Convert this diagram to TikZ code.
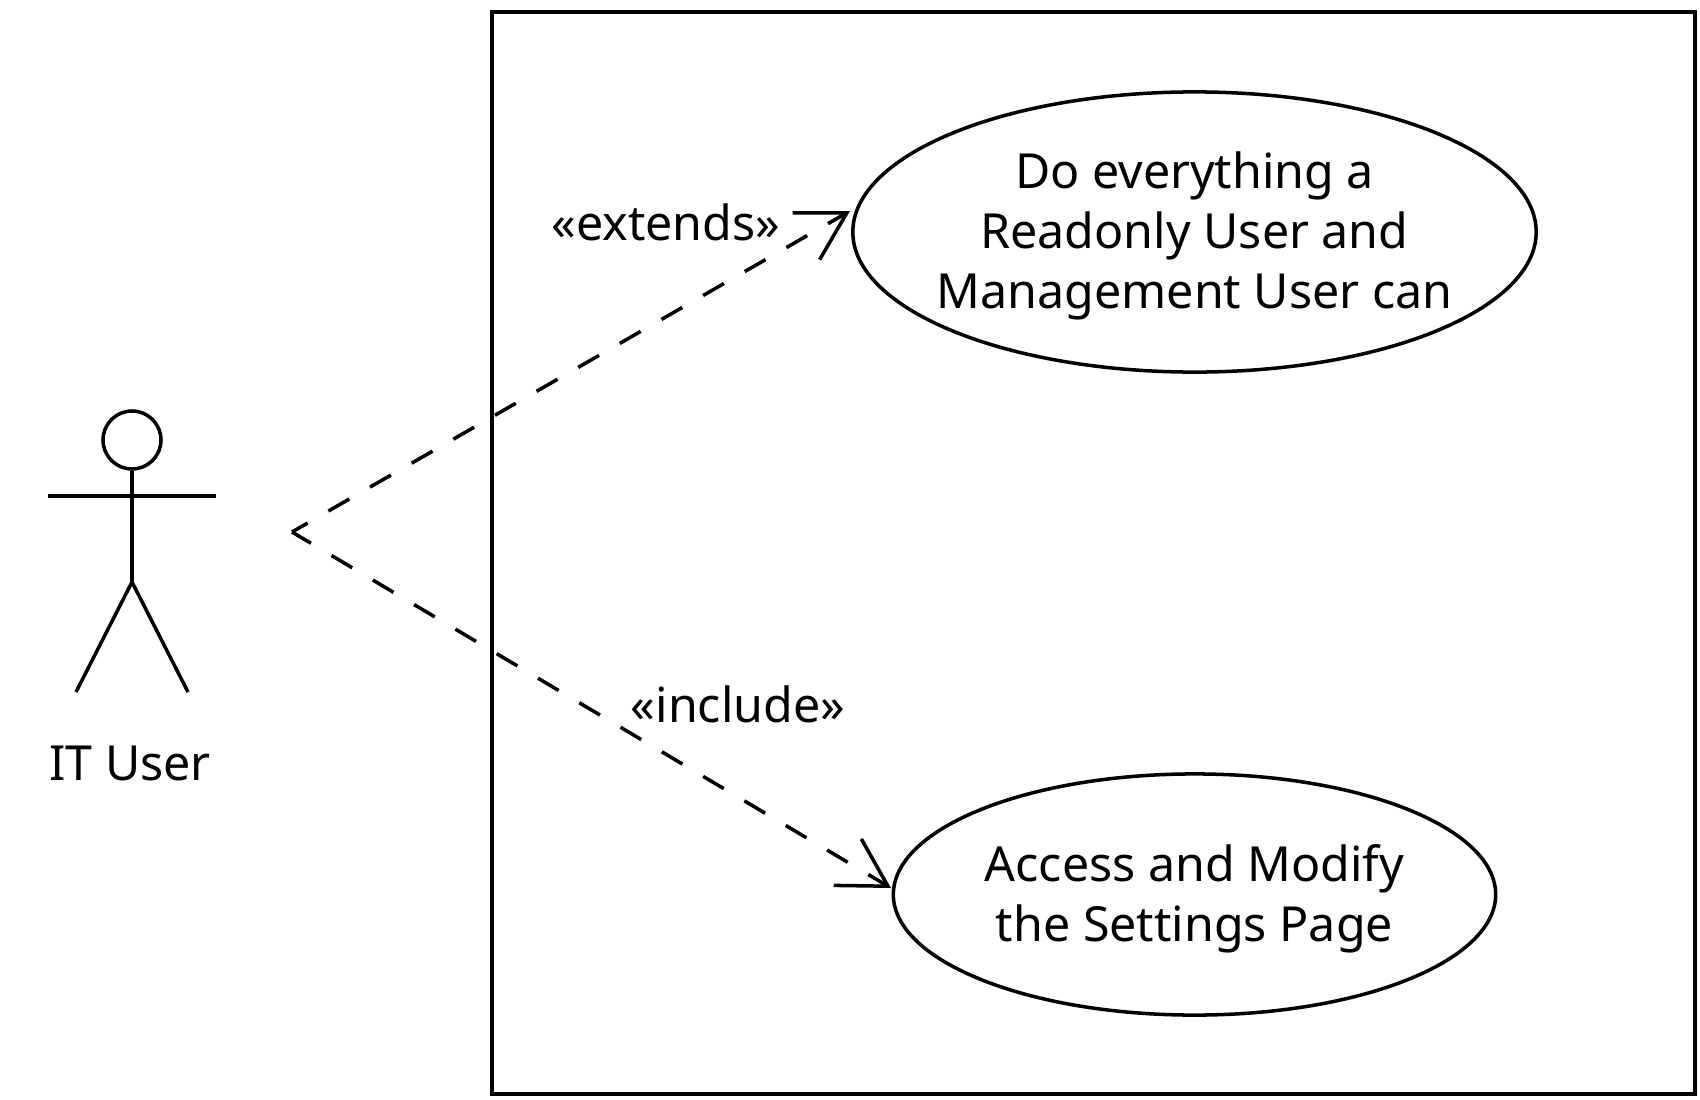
\documentclass[tikz,border=0pt]{standalone}
\usepackage{fontspec}
\setmainfont{Noto Sans}
\usetikzlibrary{arrows.meta,shapes.geometric}

\tikzset{
  usecase/.style={draw, ellipse, inner sep=0pt, line width=1pt},
  dep/.style={line width=1pt, dash pattern=on .24cm off .24cm,
    -{Straight Barb[length=.47cm,width=.54cm,line width=1pt]}},
  txt/.style={font=\fontsize{13.75}{17}\selectfont, align=center, inner sep=0pt},
}

\begin{document}
\begin{tikzpicture}[x=.01cm, y=-.01cm]
 \useasboundingbox (0,0) rectangle (1700,1100);
 \draw[line width=1.1pt] (492,12) rectangle (1695,1094);
 % actor
 \node[draw, circle, line width=1pt, minimum size=.58cm, inner sep=0pt] (head) at (132,440) {};
 \coordinate (hip) at (132,582);
 \draw[line width=1pt] (head) -- (hip);
 \draw[line width=1pt] (48,496) -- (216,496);
 \draw[line width=1pt] (76,692) -- (hip) -- (188,692);
 \node[txt] (ituser) at (130,763) {IT User};
 % use cases
 \node[usecase, minimum width=6.83cm, minimum height=2.8cm,
   label={[txt, yshift=-.04cm]center:{Do everything a\\Readonly User and\\Management User can}}] (everything) at (1194.5,232) {};
 \node[usecase, minimum width=6.02cm, minimum height=2.41cm,
   label={[txt, yshift=-.045cm]center:{Access and Modify\\the Settings Page}}] (settings) at (1194.5,894.5) {};
 % dependencies
 \coordinate (apex) at (292,532);
 \coordinate (extendsend) at (850,211);
 \coordinate (includeend) at (891,888);
 \draw[dep, dash phase=.06cm] (apex) -- (extendsend);
 \draw[dep, dash phase=.02cm] (apex) -- (includeend);
 \node[txt] (extends) at (666,222) {«extends»};
 \node[txt] (include) at (738,704) {«include»};
\end{tikzpicture}
\end{document}
